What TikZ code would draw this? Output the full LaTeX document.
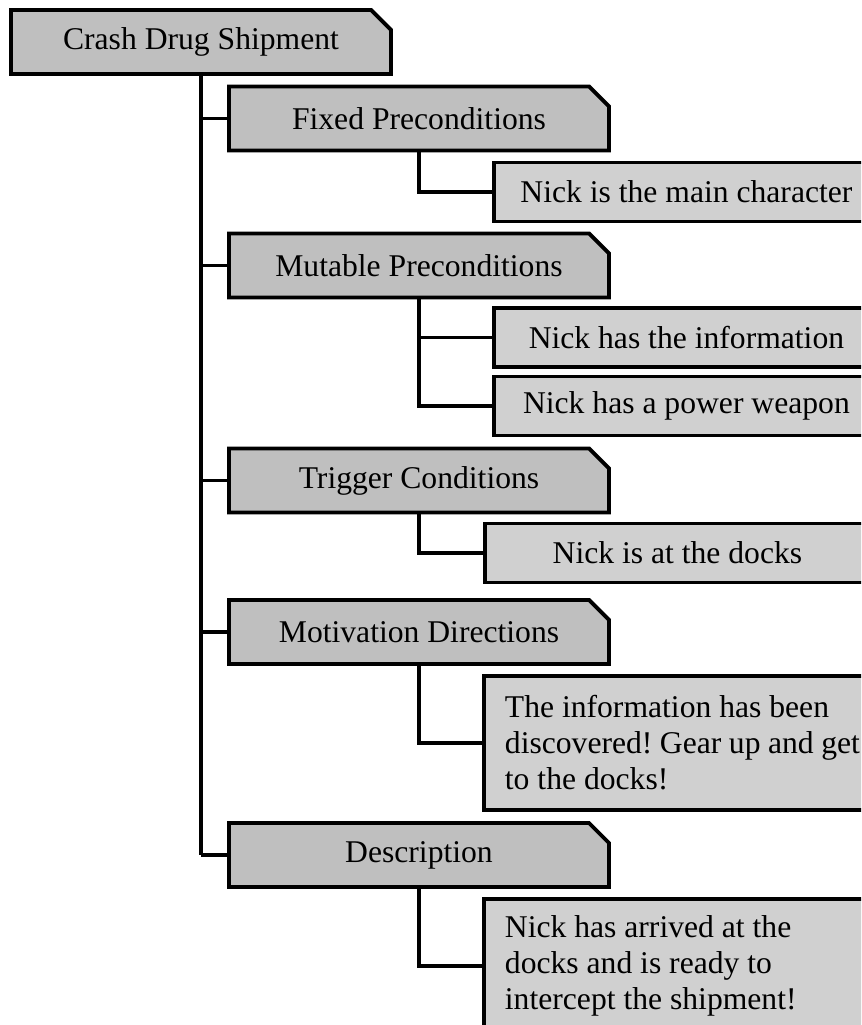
\documentclass[tikz,border=0pt]{standalone}
\usepackage{fontspec}
\setmainfont{Liberation Serif}
\usetikzlibrary{%
  shapes.misc,%
}
\definecolor{headgray}{HTML}{BFBFBF}
\definecolor{leafgray}{HTML}{D0D0D0}
\frenchspacing

\begin{document}
\begin{tikzpicture}[font=\fontsize{18}{20.5}\selectfont, line width=2.2pt,
  header/.style={draw, fill=headgray, chamfered rectangle,
    chamfered rectangle corners=north east,
    chamfered rectangle xsep=0.2cm, chamfered rectangle ysep=0.2cm,
    minimum width=7.6cm, minimum height=1.28cm, inner sep=0pt},
  leaf/.style={draw, fill=leafgray, anchor=west, minimum width=7.7cm,
    minimum height=1.18cm, inner sep=0pt},
  note/.style={leaf, text width=7.1cm, align=flush left, inner xsep=0.42cm,
    minimum height=2.68cm}]

      \clip (0, 0) rectangle (17.22, 20.5);
      \fill [white] (0, 0) rectangle (17.22, 20.5);

      \node [header] (root) at (4.02, 19.66) {Crash Drug Shipment};

      \node [header] (fixed) at (8.38, 18.13) {Fixed Preconditions};
      \node [leaf] (main) at (9.84, 16.66) {Nick is the main character};

      \node [header] (mutable) at (8.38, 15.19) {Mutable Preconditions};
      \node [leaf] (info) at (9.84, 13.75) {Nick has the information};
      \node [leaf] (weapon) at (9.84, 12.38) {Nick has a power weapon};

      \node [header] (trigger) at (8.38, 10.89) {Trigger Conditions};
      \node [leaf] (docks) at (9.66, 9.44) {Nick is at the docks};

      \node [header] (motiv) at (8.38, 7.86) {Motivation Directions};
      \node [note] (gear) at (9.64, 5.64)
        {The information has been discovered! Gear up and get to the docks!};

      \node [header] (desc) at (8.38, 3.40) {Description};
      \node [note] (arrive) at (9.64, 1.18)
        {Nick has arrived at the docks and is ready to intercept the shipment!};

      \draw (root.south) -- (root.south |- desc.west);
      \foreach \n in {fixed, mutable, trigger, motiv, desc}
        \draw (root.south |- \n.west) -- (\n.west);

      \draw (fixed.south) |- (main.west);
      \draw (mutable.south) |- (weapon.west);
      \draw (mutable.south |- info.west) -- (info.west);
      \draw (trigger.south) |- (docks.west);
      \draw (motiv.south) |- (gear.west);
      \draw (desc.south) |- (arrive.west);

    \end{tikzpicture}
\end{document}
